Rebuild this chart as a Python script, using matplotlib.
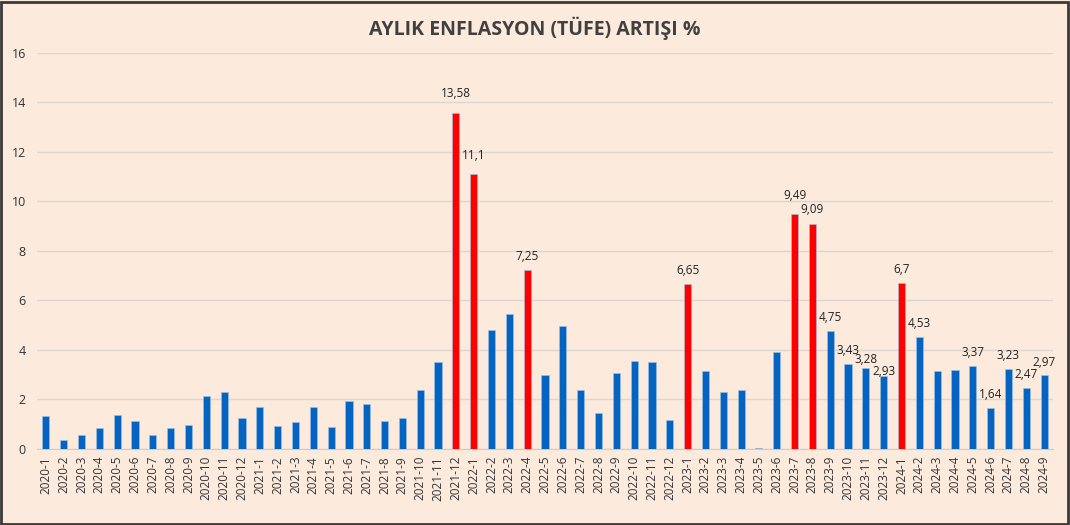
import matplotlib

matplotlib.use("Agg")
import matplotlib.pyplot as plt
from matplotlib.patches import Rectangle

# Monthly CPI change (%), 2020-1 .. 2024-9
months = [f"{year}-{m}" for year in range(2020, 2025) for m in range(1, 13)][:57]
values = [
    1.35, 0.35, 0.57, 0.85, 1.36, 1.13, 0.58, 0.86, 0.97, 2.13, 2.30, 1.25,
    1.68, 0.91, 1.08, 1.68, 0.89, 1.94, 1.80, 1.12, 1.25, 2.39, 3.51, 13.58,
    11.10, 4.81, 5.46, 7.25, 2.98, 4.95, 2.37, 1.46, 3.08, 3.54, 3.52, 1.18,
    6.65, 3.15, 2.29, 2.39, 0.04, 3.92, 9.49, 9.09, 4.75, 3.43, 3.28, 2.93,
    6.70, 4.53, 3.16, 3.18, 3.37, 1.64, 3.23, 2.47, 2.97,
]
highlighted = ["2021-12", "2022-1", "2022-4", "2023-1", "2023-7", "2023-8", "2024-1"]
labelled = [
    "2021-12", "2022-1", "2022-4", "2023-1", "2023-7", "2023-8", "2023-9",
    "2023-10", "2023-11", "2023-12", "2024-1", "2024-2", "2024-5", "2024-6",
    "2024-7", "2024-8", "2024-9",
]
# label gap above bar top (points), a few are squeezed in the original
label_gap = {"2021-12": 4, "2022-1": 4, "2023-7": 4, "2023-8": 1, "2023-11": -4, "2023-12": -6}

BG = "#fcebdd"
BLUE = "#0563c1"
RED = "#ff0000"

plt.rcParams["font.family"] = ["Open Sans", "DejaVu Sans"]

fig = plt.figure(figsize=(10.7, 5.25), dpi=100, facecolor=BG)
ax = fig.add_axes([0.0346, 0.1448, 0.9495, 0.7543])
ax.set_facecolor(BG)

x = range(len(months))
colors = [RED if m in highlighted else BLUE for m in months]
ax.bar(x, values, width=0.4, color=colors, edgecolor="#9dc3e6", linewidth=0.4, zorder=3)

for i, (m, v) in enumerate(zip(months, values)):
    if m in labelled:
        txt = f"{v:g}".replace(".", ",")
        ax.annotate(txt, (i, v), xytext=(0, 5 + label_gap.get(m, 0)), textcoords="offset points",
                    ha="center", va="bottom", fontsize=8.5, color="#222222", zorder=4)

ax.set_xlim(-0.5, len(months) - 0.5)
ax.set_ylim(0, 16)
ax.set_yticks(range(0, 17, 2))
ax.set_xticks(list(x))
ax.set_xticklabels(months, rotation=90, fontsize=8.5, color="#333333")
ax.tick_params(axis="y", labelsize=9, colors="#333333", length=0, pad=8)
ax.tick_params(axis="x", length=0, pad=5)
ax.grid(axis="y", color="#dcd6cf", linewidth=1.0, zorder=0)
for side in ["top", "right", "left"]:
    ax.spines[side].set_visible(False)
ax.spines["bottom"].set_color("#d0cbc5")

fig.text(0.5, 0.947, "AYLIK ENFLASYON (TÜFE) ARTIŞI %", ha="center", va="center",
         fontsize=14, fontweight="bold", color="#404040")

fig.patches.append(Rectangle((0.001, 0.002), 0.997, 0.995, transform=fig.transFigure,
                             fill=False, edgecolor="#3a3a3a", linewidth=2.0))

fig.savefig("out.png", dpi=100, facecolor=BG)
